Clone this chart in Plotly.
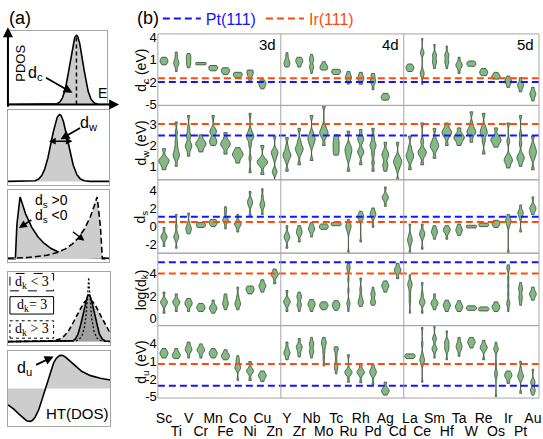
import numpy as np
import plotly.graph_objects as go

W, H = 543, 439
FONT = "Liberation Sans, Arial, Helvetica, sans-serif"
SERIF = "Liberation Serif, Times New Roman, serif"

# ---------------- data ----------------
ELEMENTS = ['Sc', 'Ti', 'V', 'Cr', 'Mn', 'Fe', 'Co', 'Ni', 'Cu', 'Zn',
            'Y', 'Zr', 'Nb', 'Mo', 'Tc', 'Ru', 'Rh', 'Pd', 'Ag', 'Cd',
            'La', 'Ce', 'Sm', 'Hf', 'Ta', 'W', 'Re', 'Os', 'Ir', 'Pt', 'Au']
BLOCK_LABELS = ['3d', '4d', '5d']
BLOCK_SIZES = [10, 10, 11]

DC_SAMPLES = [
    [0.3, 0.7, 0.8, 0.9, 1.3], [-0.6, 0.2, 0.45, 0.6, 0.8, 1.4, 2.0],
    [-0.1, 0.5, 0.6, 1.2, 1.3, 1.8], [0.3, 0.4, 0.45, 0.5, 0.6],
    [-0.5, -0.2, -0.1, 0.0, 0.2], [-1.0, -0.6, -0.5, -0.4, -0.1],
    [-1.4, -1.1, -1.0, -0.9, -0.7], [-1.9, -1.3, -0.9, -0.8, -0.5, -0.4],
    [-2.9, -2.4, -2.25, -2.1, -1.7], None,
    [0.0, 0.4, 0.5, 0.7, 1.2, 1.9], [0.0, 0.6, 0.8, 0.9, 1.3],
    [-0.85, -0.1, 0.0, 0.1, 0.9, 1.0, 1.1, 1.7], [-0.4, -0.1, 0.0, 0.1, 0.7],
    [-1.0, -0.7, -0.6, -0.5, -0.3], [-2.25, -1.6, -1.4, -1.2, -0.6],
    [-2.3, -1.7, -1.5, -1.3, -0.7], [-3.0, -2.1, -1.9, -1.7, -1.2, -0.85],
    [-4.4, -4.1, -4.0, -3.9, -3.5], None,
    [-0.6, -0.2, -0.1, 0.0, 0.4], [-2.3, -1.2, -0.9, -0.8, -0.5, 1.8, 1.9, 2.0, 3.8],
    [-0.2, 0.5, 0.65, 0.8, 1.4, 1.6, 1.7, 3.0], [-0.2, 0.55, 0.65, 0.8, 1.5, 1.6, 1.7, 2.8],
    [-0.85, 0.0, 0.2, 0.3, 0.5, 1.3], [0.1, 0.35, 0.45, 0.5, 0.8],
    [-1.15, -0.8, -0.7, -0.6, -0.2], [-1.6, -1.35, -1.27, -1.2, -0.7],
    [-2.7, -2.0, -1.9, -1.8, -1.2], [-3.3, -2.6, -2.4, -2.2, -1.4],
    [-4.5, -3.8, -3.6, -3.4, -2.7],
]
DW_SAMPLES = [
    [0.87, 1.15, 1.25, 1.3, 1.4, 1.85], [1.03, 1.4, 1.5, 1.6, 1.7, 1.9, 2.2, 2.6, 3.1],
    [1.5, 1.8, 1.95, 2.0, 2.1, 2.4, 2.5, 2.8, 3.4], [1.7, 1.95, 2.05, 2.1, 2.2, 2.5],
    [2.0, 2.15, 2.2, 2.3, 2.6, 2.65, 2.75, 3.4], [1.6, 1.95, 2.05, 2.1, 2.25, 2.6],
    [1.18, 1.45, 1.55, 1.6, 1.7, 1.9], [0.73, 1.4, 2.0, 2.3, 2.4, 2.45, 2.5, 2.7, 3.5],
    [0.65, 1.1, 1.2, 1.25, 1.35, 2.0], [0.1, 0.75, 0.8, 1.4, 1.6, 1.7, 1.75, 2.45],
    [0.8, 1.3, 1.5, 1.55, 1.65, 1.9, 2.37], [1.1, 1.6, 1.8, 1.85, 1.95, 2.2, 2.8],
    [1.3, 2.0, 2.2, 2.3, 2.4, 2.6, 3.4], [2.0, 2.4, 2.55, 2.6, 2.7, 2.9, 3.85],
    [1.55, 1.7, 1.85, 2.0, 2.15, 2.3, 2.5], [0.8, 1.4, 1.6, 1.75, 1.85, 2.0, 2.67],
    [1.1, 1.6, 1.7, 1.8, 2.2, 2.3, 2.4, 2.75], [0.8, 1.2, 1.6, 1.9, 2.0, 2.1, 2.4, 2.8],
    [0.8, 1.05, 1.1, 1.4, 1.55, 1.6, 1.75, 2.15], [0.35, 0.9, 1.1, 1.2, 1.25, 1.35, 1.5, 2.15],
    [0.87, 1.3, 1.45, 1.55, 1.65, 1.9, 2.44], [1.1, 1.5, 1.65, 1.7, 1.8, 2.2, 3.05],
    [1.4, 1.8, 1.95, 2.0, 2.1, 2.3, 2.8], [2.0, 2.4, 2.55, 2.6, 2.65, 2.8, 3.05],
    [2.0, 2.25, 2.35, 2.4, 2.5, 2.82], [2.15, 2.5, 2.6, 2.67, 2.75, 3.0, 3.57],
    [1.6, 2.2, 2.5, 2.6, 2.7, 2.9, 3.5], [1.92, 2.15, 2.22, 2.3, 2.4, 2.82],
    [0.95, 1.2, 1.3, 1.35, 1.5, 2.2, 3.05], [1.03, 1.3, 1.4, 1.45, 1.6, 2.1, 2.5, 3.4],
    [0.87, 1.4, 1.6, 1.7, 1.8, 2.0, 2.44],
]
DS_SAMPLES = [
    [-2.2, -1.4, -1.2, -1.1, -0.9, -0.1], [-2.4, -1.4, -1.2, -1.1, -0.8, 0.0, 1.35],
    [-0.8, -0.4, -0.25, -0.1, 0.3, 1.5], [-0.1, 0.1, 0.17, 0.25, 0.45],
    [0.0, 0.35, 0.45, 0.55, 0.8], [-0.25, 0.5, 0.7, 0.8, 0.95, 1.7, 2.2],
    [-0.6, 0.1, 0.25, 0.3, 0.5, 1.35], [1.2, 2.3, 2.6, 2.8, 3.0, 3.9],
    [1.35, 2.1, 2.4, 2.5, 2.7, 3.3, 4.2], None,
    [-2.4, -1.4, -1.2, -1.1, -0.8, 0.1], [-1.7, -0.9, -0.7, -0.55, -0.3, 0.1],
    [-1.15, -0.5, -0.3, -0.2, 0.0, 0.45], [-0.3, -0.05, 0.0, 0.05, 0.3],
    [0.1, 0.25, 0.3, 0.35, 0.45], [-2.9, -0.6, -0.2, 0.0, 0.1, 0.3, 0.8],
    [-1.7, 0.8, 1.0, 1.15, 1.3, 1.7], [-0.07, 1.0, 1.3, 1.4, 1.6, 2.07],
    [2.25, 3.0, 3.2, 3.3, 3.45, 4.4], None,
    [-2.9, -2.0, -1.6, -1.5, -1.3, -0.9, 0.28], [-2.5, -1.2, -0.9, -0.75, -0.5, 0.28],
    [-1.4, -0.8, -0.65, -0.55, -0.3, 0.1], [-1.4, -0.6, -0.45, -0.4, -0.2, 0.1],
    [-1.0, -0.55, -0.45, -0.35, -0.1, 0.28], [-0.15, -0.03, 0.0, 0.03, 0.15],
    [0.0, 0.15, 0.2, 0.25, 0.4], [-0.1, 0.25, 0.35, 0.4, 0.7],
    [-2.9, 0.0, 0.4, 0.6, 0.7, 0.9, 1.35], [-0.6, 1.0, 1.4, 1.55, 1.7, 2.4],
    [1.35, 1.8, 2.0, 2.1, 2.3, 3.3],
]
DK_SAMPLES = [
    [0.5, 1.25, 1.45, 1.5, 1.6, 2.36], [0.65, 1.3, 1.45, 1.5, 1.6, 2.2],
    [0.65, 1.2, 1.3, 1.4, 1.5, 1.8], [0.65, 0.95, 1.0, 1.05, 1.36],
    [0.5, 0.85, 0.92, 1.0, 1.1, 1.65], [0.8, 1.2, 1.3, 1.4, 1.6, 1.9, 2.2],
    [0.8, 1.2, 1.3, 1.4, 1.6, 2.0, 2.8], [2.2, 2.5, 2.6, 2.7, 2.9],
    [2.36, 2.8, 2.9, 3.0, 3.45], [3.1, 3.8, 3.9, 4.0, 4.4],
    [0.65, 1.3, 1.45, 1.55, 1.7, 2.5], [0.65, 1.15, 1.25, 1.3, 1.85, 1.95, 2.0, 2.36],
    [0.65, 1.1, 1.2, 1.3, 1.45, 1.7], [0.8, 1.05, 1.15, 1.2, 1.3, 1.5],
    [0.75, 1.0, 1.1, 1.2, 1.3, 1.4, 1.6], [0.65, 1.2, 1.36, 1.5, 2.5, 3.5, 4.3, 4.5, 4.6, 4.9],
    [1.1, 1.4, 1.5, 1.6, 2.0, 2.6, 3.6], [1.2, 1.45, 1.5, 1.6, 2.1, 2.2, 2.3, 2.8],
    [2.36, 2.8, 2.9, 3.0, 3.35], [3.55, 4.2, 4.3, 4.4, 4.9],
    [0.5, 1.5, 2.0, 2.5, 2.9, 3.0, 3.1, 3.3, 3.9], [0.5, 1.3, 1.45, 1.5, 1.7, 2.2, 3.2],
    [0.8, 1.25, 1.35, 1.4, 1.55, 2.2], [0.65, 1.1, 1.2, 1.25, 1.65],
    [0.65, 1.0, 1.08, 1.15, 1.6], [0.75, 0.9, 0.94, 1.0, 1.15],
    [0.7, 0.8, 0.85, 0.9, 1.05], [0.65, 1.0, 1.05, 1.1, 1.5],
    [0.65, 1.2, 1.36, 1.5, 2.2, 2.9, 3.6, 4.4, 4.5, 4.77], [1.2, 1.6, 1.9, 2.0, 2.5, 2.64, 2.8, 3.2],
    [1.65, 2.1, 2.2, 2.3, 2.8],
]
DU_SAMPLES = [
    [1.6, 2.3, 2.4, 2.5, 3.2], [1.5, 2.0, 2.15, 2.3, 3.2],
    [1.6, 2.8, 2.95, 3.1, 3.6, 4.3], [1.6, 2.7, 2.9, 3.0, 3.2, 4.0],
    [1.6, 2.3, 2.4, 2.5, 3.2], [1.3, 1.9, 2.0, 2.1, 3.0],
    [-2.2, -0.3, -0.1, 0.0, 0.2, 1.0, 1.2, 2.0], [-2.2, -0.8, -0.6, -0.4, 1.0],
    [-2.4, -1.5, -1.4, -1.3, -0.6], None,
    [1.3, 2.2, 2.4, 2.6, 3.2, 4.3], [1.8, 2.6, 3.3, 3.5, 3.7, 4.9],
    [1.6, 2.5, 2.7, 2.9, 3.8, 4.0, 4.2, 5.1], [0.24, 1.5, 2.5, 3.2, 3.8, 4.1, 4.3, 4.5, 5.1],
    [-1.1, -0.2, 0.0, 0.3, 1.0, 2.0, 2.8, 3.1, 3.3, 3.5], [-2.5, -1.1, -0.9, -0.8, -0.5, 2.15],
    [-2.6, -1.1, -0.9, -0.8, -0.5, 0.5], [-2.9, -1.3, -1.0, -0.8, -0.6, -0.3, 0.5],
    [-4.7, -4.0, -3.9, -3.8, -2.5], None,
    [1.5, 1.85, 1.9, 1.95, 2.3], [-2.5, 0.5, 1.1, 1.3, 1.5, 2.2, 4.0, 6.8],
    [1.6, 2.9, 3.1, 3.2, 3.4, 4.7, 4.9, 5.1, 7.0], [1.3, 2.8, 3.2, 3.4, 4.0, 4.3, 4.5, 6.2],
    [1.9, 3.0, 3.3, 3.6, 3.8, 4.3, 5.1], [3.3, 4.1, 4.3, 4.45, 5.1],
    [1.3, 3.0, 3.3, 3.45, 3.7, 4.6], [-4.95, -1.5, -1.1, -0.7, 0.5, 2.8, 3.1, 3.2, 3.4, 4.3],
    [-2.7, -1.6, -1.4, -1.2, -0.6], [-4.4, -2.0, -1.6, -1.4, -1.2, -0.4, 1.05],
    [-4.7, -4.0, -3.85, -3.7, -2.7, -2.5, -2.3, -0.3],
]
ROW_SAMPLES = [DC_SAMPLES, DW_SAMPLES, DS_SAMPLES, DK_SAMPLES, DU_SAMPLES]
ROW_TITLES = ['d<sub>c</sub> (eV)', 'd<sub>w</sub> (eV)', 'd<sub>s</sub>',
              'log(d<sub>k</sub>)', 'd<sub>u</sub> (eV)']
ROW_RANGES = [[-5.1, 4.4], [0.4, 3.87], [-2.95, 5.2], [-0.6, 5.8], [-5.2, 7.1]]
ROW_TICKS = [[4, 1, -2, -5], [3, 2, 1], [4, 2, 0, -2], [4, 2, 0], [4, 1, -2, -5]]
ROW_BW = [0.33, 0.13, 0.27, 0.22, 0.42]
PT_REF = [-2.0, 2.47, 1.1, 5.0, -3.1]
IR_REF = [-1.5, 3.0, 0.5, 4.0, 0.6]

# ---------------- geometry helpers ----------------
def px_x(x):
    return x / W


def px_y(y):
    return 1 - y / H


PB_X = (157, 541)
ROW_EDGES = [31, 105, 182, 258, 333, 408]
VFILL = 'rgb(134,184,134)'
VLINE = 'rgb(55,85,55)'
BLUE = 'rgb(20,20,255)'
ORANGE = 'rgb(255,75,10)'
GRID = 'rgb(165,165,165)'

fig = go.Figure()
layout = {}
shapes = []
annotations = []

# ---------------- panel (b) ----------------
for k in range(5):
    yname = 'y' if k == 0 else f'y{k + 1}'
    lname = 'yaxis' if k == 0 else f'yaxis{k + 1}'
    xs, ys = [], []
    for i, s in enumerate(ROW_SAMPLES[k]):
        if s is None:
            continue
        xs += [i] * len(s)
        ys += s
    fig.add_trace(go.Violin(
        x=xs, y=ys, xaxis='x', yaxis=yname, width=0.85, scalemode='width',
        spanmode='hard', bandwidth=ROW_BW[k], points=False,
        fillcolor=VFILL, line=dict(color=VLINE, width=0.9), opacity=1,
        showlegend=False, hoverinfo='skip'))
    for ref, col in ((PT_REF, BLUE), (IR_REF, ORANGE)):
        fig.add_trace(go.Scatter(
            x=[-0.5, len(ELEMENTS) - 0.5], y=[ref[k], ref[k]], xaxis='x', yaxis=yname,
            mode='lines', line=dict(color=col, width=2, dash='7px,4px'),
            showlegend=False, hoverinfo='skip'))
    layout[lname] = dict(
        domain=[px_y(ROW_EDGES[k + 1]), px_y(ROW_EDGES[k])], anchor='x',
        range=ROW_RANGES[k], tickvals=ROW_TICKS[k],
        ticktext=[str(t) for t in ROW_TICKS[k]], showgrid=False, zeroline=False,
        showline=False, ticks='', tickfont=dict(size=13, color='black', family=FONT))
    shapes.append(dict(type='rect', xref='x domain', yref=f'{yname} domain',
                       x0=0, x1=1, y0=0, y1=1, line=dict(color=GRID, width=1)))
    annotations.append(dict(
        text=ROW_TITLES[k], xref='paper', yref='paper', x=px_x(141),
        y=px_y((ROW_EDGES[k] + ROW_EDGES[k + 1]) / 2), textangle=-90,
        showarrow=False, font=dict(size=14, color='black', family=FONT),
        xanchor='center', yanchor='middle'))

# legend entries
for col, nm in ((BLUE, 'Pt(111)'), (ORANGE, 'Ir(111)')):
    fig.add_trace(go.Scatter(
        x=[None], y=[None], xaxis='x', yaxis='y', mode='lines',
        line=dict(color=col, width=2, dash='7px,4px'),
        name=f'<span style="color:{col}">{nm}</span>', showlegend=True))

# block separators and labels
start = 0
for lab, size in zip(BLOCK_LABELS, BLOCK_SIZES):
    end = start + size
    if end < len(ELEMENTS):
        shapes.append(dict(type='line', xref='x', yref='paper', x0=end - 0.5, x1=end - 0.5,
                           y0=px_y(ROW_EDGES[-1]), y1=px_y(ROW_EDGES[0]),
                           line=dict(color=GRID, width=1)))
    annotations.append(dict(text=lab, xref='x', yref='paper', x=end - 0.5, xshift=-3,
                            y=px_y(42), xanchor='right', yanchor='middle', showarrow=False,
                            font=dict(size=15, color='black', family=FONT)))
    start = end

# staggered element labels: even positions on the main axis, odd ones on an overlay axis
even_idx = list(range(0, len(ELEMENTS), 2))
odd_idx = list(range(1, len(ELEMENTS), 2))
xcommon = dict(range=[-0.5, len(ELEMENTS) - 0.5], showgrid=False, zeroline=False,
               showline=False, ticks='', tickangle=0, ticklabeloverflow='allow',
               tickfont=dict(size=14, color='black', family=FONT))
layout['xaxis'] = dict(domain=[px_x(PB_X[0]), px_x(PB_X[1])], anchor='y5',
                       tickvals=even_idx, ticktext=[ELEMENTS[i] for i in even_idx],
                       ticklabelstandoff=10, **xcommon)
layout['xaxis7'] = dict(overlaying='x', anchor='y5', side='bottom',
                        tickvals=odd_idx, ticktext=[ELEMENTS[i] for i in odd_idx],
                        ticklabelstandoff=23, **xcommon)
fig.add_trace(go.Scatter(x=[None], y=[None], xaxis='x7', yaxis='y5', showlegend=False,
                         hoverinfo='skip'))

# ---------------- panel (a): schematics ----------------
BOXES = [(6, 106, 28, 104), (6, 108, 110, 187), (6, 108, 193, 267),
         (6, 109, 277, 353), (6, 109, 359, 437)]
BOX_YR = [[0, 1.02], [-0.045, 1.0], [-0.05, 1.05], [-0.05, 1.05], [-1, 1]]
for j, (x0, x1, y0, y1) in enumerate(BOXES):
    layout[f'xaxis{j + 2}'] = dict(domain=[px_x(x0), px_x(x1)], anchor=f'y{j + 6}',
                                   range=[0, 1], visible=True, showticklabels=False,
                                   ticks='', showgrid=False, zeroline=False,
                                   showline=True, mirror=True, linecolor=GRID, linewidth=1)
    layout[f'yaxis{j + 6}'] = dict(domain=[px_y(y1), px_y(y0)], anchor=f'x{j + 2}',
                                   range=BOX_YR[j], showticklabels=False, ticks='',
                                   showgrid=False, zeroline=False, showline=True,
                                   mirror=True, linecolor=GRID, linewidth=1)

xs = np.linspace(0, 1, 400)
LG = 'rgb(205,205,205)'
MG = 'rgb(160,160,160)'


def curve(x, y, j, dash='solid', fill=None, fc=LG, width=1.6):
    fig.add_trace(go.Scatter(x=x, y=y, xaxis=f'x{j + 2}', yaxis=f'y{j + 6}', mode='lines',
                             line=dict(color='black', width=width, dash=dash),
                             fill=fill, fillcolor=fc, showlegend=False, hoverinfo='skip'))


# box 1: d-band centre
g1 = 0.96 * np.exp(-0.5 * ((xs - 0.69) / 0.065) ** 2)
curve(xs, g1, 0, fill='tozeroy')
curve([0.69, 0.69], [0, 0.96], 0, dash='4px,3px', width=1.5)
# box 2: width
g2 = 0.94 * np.exp(-0.5 * ((xs - 0.51) / 0.08) ** 2)
curve(xs, g2, 1, fill='tozeroy')
# box 3: skewness
rise = np.clip((xs - 0.075) / 0.045, 0, 1) ** 0.5
s3 = 0.95 * np.where(xs < 0.12, rise, np.exp(-(xs - 0.12) / 0.17))
curve(xs, s3, 2, fill='tozeroy')
curve(xs, s3[::-1], 2, dash='6px,3px', fill='tozeroy')
# box 4: kurtosis
k_wide = 0.63 * np.exp(-0.5 * ((xs - 0.79) / 0.12) ** 2)
k_norm = 0.70 * np.exp(-0.5 * ((xs - 0.79) / 0.055) ** 2)
k_peak = 0.98 * np.exp(-np.abs(xs - 0.79) / 0.028)
curve(xs, k_wide, 3, dash='5px,3px', fill='tozeroy', fc=LG)
curve(xs, k_norm, 3, fill='tozeroy', fc=MG)
curve(xs, k_peak, 3, dash='2px,2px', width=1.3)
# box 5: Hilbert transform (Dawson-like)
t = np.linspace(-2.17, 3.78, 3000)
gt = np.exp(t ** 2)
cum = np.concatenate([[0], np.cumsum((gt[1:] + gt[:-1]) / 2 * np.diff(t))])
daw = np.exp(-t ** 2) * (cum - np.interp(0, t, cum))
curve(0.365 + 0.168 * t, 0.88 * daw / daw.max(), 4, fill='tozeroy')


# panel (a) annotations
def ann(text, x, y, size=14, family=FONT, **kw):
    d = dict(text=text, xref='paper', yref='paper', x=px_x(x), y=px_y(y), showarrow=False,
             font=dict(size=size, color='black', family=family), xanchor='center',
             yanchor='middle')
    d.update(kw)
    annotations.append(d)


def arrow(hx, hy, tx, ty, head=2, side='end', width=1.6, size=1):
    annotations.append(dict(text='', xref='paper', yref='paper', x=px_x(hx), y=px_y(hy),
                            ax=tx - hx, ay=ty - hy, showarrow=True, arrowhead=head,
                            arrowside=side, arrowwidth=width, arrowsize=size,
                            arrowcolor='black', startarrowhead=head))


ann('(a)', 18, 14, size=18)
ann('(b)', 147, 14, size=18)
arrow(118, 104, 5, 104, width=2)
arrow(6, 24, 6, 105, width=2)
ann('PDOS', 19, 61, size=13, textangle=-90)
ann('d<sub>c</sub>', 34, 72, size=16)
arrow(71, 92, 43, 76, width=1.8)
ann('E', 101, 92, size=14)
arrow(71, 142, 46, 142, side='end+start', width=1.5, size=0.9)
ann('d<sub>w</sub>', 88, 124, size=16)
arrow(59, 140, 80, 128, width=1.8)
ann('d<sub>s</sub> >0', 50, 204, size=14)
ann('d<sub>s</sub> <0', 50, 219, size=14)
arrow(17, 232, 31, 223, width=1.6)
arrow(83, 245, 70, 235, width=1.4)
for (lab, yc, dsh) in (('d<sub>k</sub> < 3', 288, 'dash'), ('d<sub>k</sub>= 3', 312, 'solid'),
                       ('d<sub>k</sub> > 3', 337, 'dot')):
    shapes.append(dict(type='rect', xref='paper', yref='paper', x0=px_x(8), x1=px_x(52),
                       y0=px_y(yc + 9), y1=px_y(yc - 9),
                       line=dict(color='black', width=1, dash=dsh)))
    ann(lab, 30, yc, size=14, family=SERIF)
ann('d<sub>u</sub>', 23, 377, size=16)
arrow(52, 365, 33, 374, width=1.8)
ann('HT(DOS)', 76, 424, size=15)

fig.update_layout(
    width=W, height=H, margin=dict(l=0, r=0, t=0, b=0),
    paper_bgcolor='white', plot_bgcolor='white',
    font=dict(family=FONT, color='black'),
    violinmode='overlay', shapes=shapes, annotations=annotations,
    legend=dict(orientation='h', x=px_x(157), y=px_y(15), xanchor='left', yanchor='middle',
                font=dict(size=16, family=FONT), bgcolor='rgba(0,0,0,0)', itemwidth=38,
                traceorder='normal'),
    **layout)

fig.write_html('out.html', config={'displayModeBar': False},
               post_script="document.body.style.margin='0px';"
                           "document.documentElement.style.overflow='hidden';")
